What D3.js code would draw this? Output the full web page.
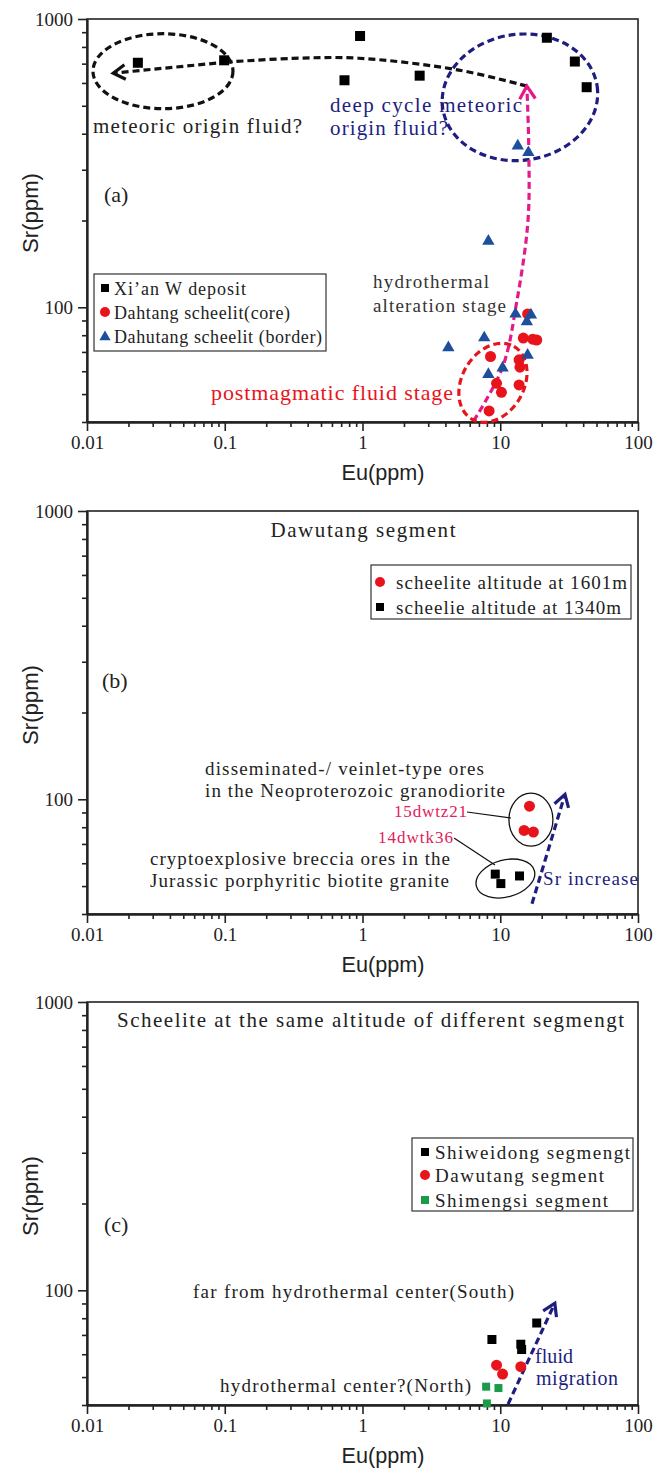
<!DOCTYPE html>
<html>
<head>
<meta charset="utf-8">
<script src="https://d3js.org/d3.v7.min.js"></script>
<style>
  body { margin: 0; background: #fff; }
  text { font-family: "Liberation Serif", "Times New Roman", serif; }
</style>
</head>
<body>
<svg id="chart" width="654" height="1470"></svg>
<script>
// ---- data (Eu ppm, Sr ppm) ----
// panel (a)
const xianEu = [0.0234, 0.099, 0.96, 0.74, 2.6, 21.8, 34.8, 42.4];
const xianSr = [705, 719, 873, 613, 636, 861, 712, 580];
const coreEu = [15.8, 14.7, 17.2, 18.4, 8.5, 13.7, 13.9, 9.4, 10.2, 13.7, 8.3];
const coreSr = [94.8, 78.2, 77.5, 77, 67.5, 65.7, 62, 54.5, 50.7, 53.8, 43.7];
const borderEu = [13.4, 16, 8.2, 12.9, 16.7, 15.6, 7.65, 4.2, 15.8, 10.4, 8.2];
const borderSr = [366, 347, 171, 95.5, 94.8, 89.9, 79, 73, 68.8, 62.1, 59];
// panel (b)
const alt1601Eu = [16.3, 14.9, 17.4];
const alt1601Sr = [94.6, 78, 77];
const alt1340Eu = [9.2, 10.1, 13.8];
const alt1340Sr = [55, 51, 54.2];
// panel (c)
const shiweidongEu = [8.7, 14.1, 14.3, 18.4];
const shiweidongSr = [67.5, 65, 62.3, 77];
const dawutangEu = [9.4, 10.4, 14.1];
const dawutangSr = [55, 51.2, 54.3];
const shimengsiEu = [7.9, 9.7, 8.0];
const shimengsiSr = [46.3, 45.8, 40.5];

const xTicks = [0.01, 0.1, 1, 10, 100];
const xTickLabels = ["0.01", "0.1", "1", "10", "100"];
const yTicks = [100, 1000];
const yTickLabels = ["100", "1000"];

const W = 551, H = 403;
const svg = d3.select("#chart");
const x = d3.scaleLog().domain([0.01, 100]).range([0, W]);
const y = d3.scaleLog().domain([40, 1000]).range([H, 0]);

const BLACK = "#000", RED = "#e8141b", BLUE = "#1d4f9c", GREEN = "#1a9a4a";
const NAVY = "#1e1e80", PINK = "#e41a8a";

function zip(a, b) { return a.map((v, i) => [v, b[i]]); }

function minorTicks(lo, hi) {
  let out = [];
  for (let d = lo; d < hi; d *= 10)
    for (let k = 2; k <= 9; k++) out.push(+(d * k).toPrecision(3));
  return out;
}

function makePanel(top) {
  const g = svg.append("g").attr("transform", "translate(87," + top + ")");
  // frame
  g.append("rect").attr("width", W).attr("height", H)
    .attr("fill", "none").attr("stroke", "#222").attr("stroke-width", 1.6);
  // minor ticks
  g.append("g").attr("transform", "translate(0," + H + ")")
    .call(d3.axisBottom(x).tickValues(minorTicks(0.01, 100)).tickSize(5).tickSizeOuter(0).tickFormat(""));
  g.append("g")
    .call(d3.axisLeft(y).tickValues(minorTicks(10, 1000).filter(v => v >= 40)).tickSize(5).tickSizeOuter(0).tickFormat(""));
  // major ticks
  g.append("g").attr("transform", "translate(0," + H + ")")
    .call(d3.axisBottom(x).tickValues(xTicks).tickSize(9).tickPadding(5).tickSizeOuter(0)
      .tickFormat((d, i) => xTickLabels[i]));
  g.append("g")
    .call(d3.axisLeft(y).tickValues(yTicks).tickSize(9).tickPadding(5).tickSizeOuter(0)
      .tickFormat((d, i) => yTickLabels[i]));
  g.selectAll(".domain").attr("stroke", "#222").attr("stroke-width", 1.8);
  g.selectAll(".tick line").attr("stroke", "#222").attr("stroke-width", 1.6);
  g.selectAll(".tick text").attr("font-size", 19).attr("fill", "#222");
  // axis titles
  g.append("text").attr("transform", "translate(-49,194) rotate(-90)")
    .attr("text-anchor", "middle")
    .style("font-family", "'Liberation Sans', Arial, sans-serif")
    .attr("font-size", 22).attr("fill", "#222").attr("textLength", 80)
    .attr("lengthAdjust", "spacingAndGlyphs").text("Sr(ppm)");
  g.append("text").attr("x", 296).attr("y", H + 58)
    .attr("text-anchor", "middle")
    .style("font-family", "'Liberation Sans', Arial, sans-serif")
    .attr("font-size", 22).attr("fill", "#222").attr("textLength", 83)
    .attr("lengthAdjust", "spacingAndGlyphs").text("Eu(ppm)");
  return g;
}

function label(g, tx, ty, str, opts) {
  opts = opts || {};
  const t = g.append("text").attr("x", tx).attr("y", ty)
    .attr("font-size", opts.size || 19).attr("fill", opts.color || "#222").text(str);
  if (opts.len) t.attr("textLength", opts.len).attr("lengthAdjust", "spacing");
  if (opts.anchor) t.attr("text-anchor", opts.anchor);
  return t;
}

function squares(g, pts, color, s) {
  g.selectAll(null).data(pts).enter().append("rect")
    .attr("x", d => x(d[0]) - s / 2).attr("y", d => y(d[1]) - s / 2)
    .attr("width", s).attr("height", s).attr("fill", color);
}
function circles(g, pts, color, r) {
  g.selectAll(null).data(pts).enter().append("circle")
    .attr("cx", d => x(d[0])).attr("cy", d => y(d[1])).attr("r", r).attr("fill", color);
}
function triangles(g, pts, color) {
  g.selectAll(null).data(pts).enter().append("path")
    .attr("d", d3.symbol().type(d3.symbolTriangle).size(66))
    .attr("transform", d => "translate(" + x(d[0]) + "," + (y(d[1]) + 1) + ")")
    .attr("fill", color);
}

function dashedEllipse(g, cx, cy, rx, ry, rot, color, sw) {
  g.append("ellipse").attr("cx", 0).attr("cy", 0).attr("rx", rx).attr("ry", ry)
    .attr("transform", "translate(" + cx + "," + cy + ") rotate(" + rot + ")")
    .attr("fill", "none").attr("stroke", color).attr("stroke-width", sw || 3.2)
    .attr("stroke-dasharray", "7,4");
}

function chevron(g, tip, from, color, len, sw) {
  const a = Math.atan2(tip[1] - from[1], tip[0] - from[0]);
  const pts = [-0.55, 0.55].map(da => [tip[0] - len * Math.cos(a + da), tip[1] - len * Math.sin(a + da)]);
  g.append("path").attr("d", "M" + pts[0] + "L" + tip + "L" + pts[1])
    .attr("fill", "none").attr("stroke", color).attr("stroke-width", sw || 3.2);
}

function dashedPath(g, pts, color, curve, sw) {
  g.append("path").attr("d", d3.line().curve(curve || d3.curveLinear)(pts))
    .attr("fill", "none").attr("stroke", color).attr("stroke-width", sw || 3.2)
    .attr("stroke-dasharray", "7,4");
}

const P = d => [x(d[0]), y(d[1])];

// ================= panel (a) =================
const ga = makePanel(19);
dashedEllipse(ga, x(0.0356), y(659), 70, 37.5, 0, "#111");
dashedEllipse(ga, x(13.9), y(535), 78, 63, -8, NAVY);
const blackCurve = [[15.6, 585], [5, 665], [0.94, 731], [0.31, 730], [0.104, 709]].map(P);
dashedPath(ga, blackCurve, "#111", d3.curveCatmullRom);
dashedPath(ga, [P([0.104, 709]), P([0.0155, 649])], "#111");
chevron(ga, P([0.0155, 649]), P([0.104, 709]), "#111", 14);
// magenta arrow
const pinkCurve = [[6.4, 40.3], [10.4, 62], [13.2, 105], [15.9, 200], [16.1, 360], [15.6, 585]].map(P);
dashedPath(ga, pinkCurve, PINK, d3.curveCatmullRom);
chevron(ga, P([15.6, 585]), P([15.8, 520]), PINK, 15);
// red dashed ellipse
dashedEllipse(ga, x(8.85), y(54.7), 42, 31, -60, RED);

squares(ga, zip(xianEu, xianSr), BLACK, 10);
circles(ga, zip(coreEu, coreSr), RED, 5.5);
triangles(ga, zip(borderEu, borderSr), BLUE);

label(ga, 17, 183, "(a)", { size: 22 });
label(ga, 6, 114, "meteoric origin fluid?", { size: 21, len: 209 });
label(ga, 243, 93, "deep cycle meteoric", { size: 21, len: 192, color: NAVY });
label(ga, 243, 116, "origin fluid?", { size: 21, len: 118, color: NAVY });
label(ga, 286, 269, "hydrothermal", { size: 19, len: 116, color: "#333" });
label(ga, 286, 293, "alteration stage", { size: 19, len: 133, color: "#333" });
label(ga, 124, 381, "postmagmatic fluid stage", { size: 22, len: 242, color: RED });

// legend (a)
const la = ga.append("g");
la.append("rect").attr("x", 7).attr("y", 255).attr("width", 232).attr("height", 77)
  .attr("fill", "#fff").attr("stroke", "#333").attr("stroke-width", 1.2);
la.append("rect").attr("x", 14).attr("y", 265).attr("width", 8).attr("height", 8).attr("fill", BLACK);
la.append("circle").attr("cx", 18).attr("cy", 293).attr("r", 5).attr("fill", RED);
la.append("path").attr("d", d3.symbol().type(d3.symbolTriangle).size(55))
  .attr("transform", "translate(18,318)").attr("fill", BLUE);
label(la, 27, 276, "Xi\u2019an  W  deposit", { size: 18, len: 132 });
label(la, 27, 300, "Dahtang  scheelit(core)", { size: 18, len: 176 });
label(la, 27, 324, "Dahutang  scheelit (border)", { size: 18, len: 208 });

// ================= panel (b) =================
const gb = makePanel(511);
dashedPath(gb, [P([17, 43.4]), P([29.5, 104])], NAVY);
chevron(gb, P([29.5, 104]), P([17, 43.4]), NAVY, 14);
gb.append("ellipse").attr("rx", 22).attr("ry", 26.5)
  .attr("transform", "translate(" + x(16.7) + "," + y(85) + ")")
  .attr("fill", "none").attr("stroke", "#111").attr("stroke-width", 1.3);
gb.append("ellipse").attr("rx", 30).attr("ry", 18.5)
  .attr("transform", "translate(" + x(10.9) + "," + y(53.1) + ") rotate(-15)")
  .attr("fill", "none").attr("stroke", "#111").attr("stroke-width", 1.3);
gb.append("line").attr("x1", 380).attr("y1", 301).attr("x2", 424).attr("y2", 307)
  .attr("stroke", "#111").attr("stroke-width", 1.2);
gb.append("line").attr("x1", 367).attr("y1", 327).attr("x2", 408).attr("y2", 354)
  .attr("stroke", "#111").attr("stroke-width", 1.2);

circles(gb, zip(alt1601Eu, alt1601Sr), RED, 5.5);
squares(gb, zip(alt1340Eu, alt1340Sr), BLACK, 9);

label(gb, 276, 26, "Dawutang segment", { size: 21, len: 185, anchor: "middle" });
label(gb, 15, 177, "(b)", { size: 22 });
label(gb, 118, 264, "disseminated-/ veinlet-type ores", { size: 19, len: 279 });
label(gb, 118, 286, "in the Neoproterozoic granodiorite", { size: 19, len: 300 });
label(gb, 307, 306, "15dwtz21", { size: 17, len: 73, color: "#e0205a" });
label(gb, 291, 332, "14dwtk36", { size: 17, len: 75, color: "#e0205a" });
label(gb, 63, 354, "cryptoexplosive breccia ores in the", { size: 19, len: 300 });
label(gb, 63, 376, "Jurassic porphyritic biotite granite", { size: 19, len: 299 });
label(gb, 456, 374, "Sr increase", { size: 19, len: 95, color: NAVY });

const lb = gb.append("g");
lb.append("rect").attr("x", 284).attr("y", 54).attr("width", 260).attr("height", 54)
  .attr("fill", "#fff").attr("stroke", "#333").attr("stroke-width", 1.2);
lb.append("circle").attr("cx", 293).attr("cy", 71).attr("r", 5).attr("fill", RED);
lb.append("rect").attr("x", 289).attr("y", 92).attr("width", 8).attr("height", 8).attr("fill", BLACK);
label(lb, 309, 78, "scheelite altitude at 1601m", { size: 19, len: 231 });
label(lb, 309, 103, "scheelie altitude at 1340m", { size: 19, len: 225 });

// ================= panel (c) =================
const gc = makePanel(1002);
dashedPath(gc, [P([11.4, 40.3]), P([24.9, 90.2])], NAVY);
chevron(gc, P([24.9, 90.2]), P([11.4, 40.3]), NAVY, 14);

squares(gc, zip(shiweidongEu, shiweidongSr), BLACK, 9);
circles(gc, zip(dawutangEu, dawutangSr), RED, 5.5);
squares(gc, zip(shimengsiEu, shimengsiSr), GREEN, 8);

label(gc, 30, 25, "Scheelite at the same altitude of  different  segmengt", { size: 21, len: 507 });
label(gc, 17, 230, "(c)", { size: 22 });
label(gc, 106, 296, "far  from hydrothermal center(South)", { size: 19, len: 321 });
label(gc, 133, 390, "hydrothermal center?(North)", { size: 19, len: 251 });
label(gc, 448, 361, "fluid", { size: 20, len: 38, color: NAVY });
label(gc, 449, 383, "migration", { size: 20, len: 82, color: NAVY });

const lc = gc.append("g");
lc.append("rect").attr("x", 325).attr("y", 136).attr("width", 221).attr("height", 73)
  .attr("fill", "#fff").attr("stroke", "#333").attr("stroke-width", 1.2);
lc.append("rect").attr("x", 334).attr("y", 146).attr("width", 8).attr("height", 8).attr("fill", BLACK);
lc.append("circle").attr("cx", 338).attr("cy", 173).attr("r", 5).attr("fill", RED);
lc.append("rect").attr("x", 334).attr("y", 194).attr("width", 8).attr("height", 8).attr("fill", GREEN);
label(lc, 348, 157, "Shiweidong  segmengt", { size: 19, len: 195 });
label(lc, 348, 180, "Dawutang  segment", { size: 19, len: 169 });
label(lc, 348, 205, "Shimengsi  segment", { size: 19, len: 173 });
</script>
</body>
</html>
